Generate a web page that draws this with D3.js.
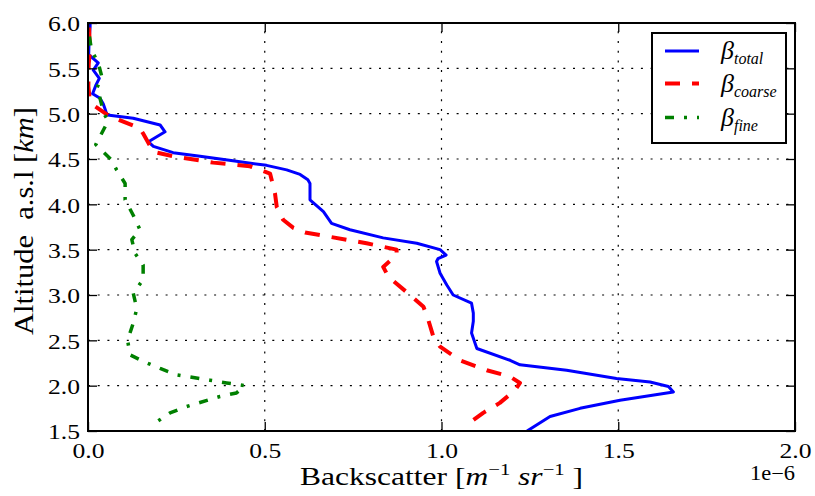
<!DOCTYPE html>
<html>
<head>
<meta charset="utf-8">
<script src="https://cdn.jsdelivr.net/npm/d3@7"></script>
<style>
    body { margin: 0; background: #fff; }
    svg { display: block; font-family: "Liberation Serif", "Times New Roman", serif; }
    svg text { font-family: "Liberation Serif", "Times New Roman", serif; }
</style>
</head>
<body>
<div id="chart"></div>
<script>
// Backscatter profiles, values in units of 1e-6 m^-1 sr^-1, altitude in km a.s.l
const totalAltitude = [5.99, 5.96, 5.80, 5.65, 5.56, 5.48, 5.39, 5.32, 5.22, 5.17, 5.11, 5.02, 4.985, 4.95, 4.875, 4.80, 4.69, 4.64, 4.57, 4.53, 4.48, 4.43, 4.38, 4.33, 4.27, 4.23, 4.05, 3.92, 3.79, 3.72, 3.63, 3.57, 3.50, 3.44, 3.40, 3.37, 3.24, 3.11, 3.00, 2.91, 2.80, 2.71, 2.58, 2.41, 2.28, 2.23, 2.17, 2.08, 2.04, 1.99, 1.93, 1.84, 1.75, 1.66, 1.50];
const totalBackscatter = [0.006, 0.006, 0.003, 0.002, 0.029, 0.015, 0.032, 0.023, 0.013, 0.034, 0.043, 0.051, 0.055, 0.128, 0.204, 0.218, 0.171, 0.185, 0.241, 0.317, 0.410, 0.505, 0.562, 0.600, 0.622, 0.628, 0.628, 0.666, 0.689, 0.741, 0.835, 0.930, 0.996, 1.013, 0.990, 0.986, 0.996, 1.015, 1.033, 1.085, 1.090, 1.090, 1.085, 1.100, 1.194, 1.222, 1.354, 1.495, 1.590, 1.642, 1.656, 1.505, 1.392, 1.307, 1.242];

const coarseAltitude = [5.95, 5.85, 5.70, 5.55, 5.30, 5.19, 5.08, 4.97, 4.84, 4.78, 4.58, 4.53, 4.46, 4.42, 4.34, 4.12, 3.97, 3.83, 3.74, 3.69, 3.57, 3.50, 3.44, 3.31, 3.20, 3.00, 2.87, 2.72, 2.54, 2.43, 2.28, 2.17, 2.10, 2.03, 1.95, 1.81, 1.70, 1.62, 1.50];
const coarseBackscatter = [0.003, 0.004, 0.006, 0.002, 0.001, 0.004, 0.020, 0.062, 0.147, 0.156, 0.185, 0.241, 0.354, 0.458, 0.515, 0.529, 0.534, 0.552, 0.581, 0.614, 0.788, 0.873, 0.873, 0.835, 0.850, 0.911, 0.949, 0.963, 0.977, 0.996, 1.052, 1.128, 1.194, 1.222, 1.208, 1.165, 1.118, 1.090, 1.080];

const fineAltitude = [5.85, 5.70, 5.56, 5.41, 5.28, 5.17, 5.00, 4.92, 4.66, 4.50, 4.38, 4.23, 4.05, 3.88, 3.72, 3.61, 3.46, 3.33, 3.17, 3.02, 2.85, 2.69, 2.50, 2.34, 2.26, 2.19, 2.12, 2.09, 2.06, 2.03, 2.00, 1.92, 1.88, 1.77, 1.70, 1.60];
const fineBackscatter = [0.004, 0.010, 0.029, 0.039, 0.025, 0.034, 0.045, 0.057, 0.022, 0.064, 0.081, 0.105, 0.105, 0.128, 0.147, 0.124, 0.133, 0.156, 0.156, 0.128, 0.138, 0.128, 0.112, 0.119, 0.161, 0.204, 0.251, 0.298, 0.345, 0.392, 0.444, 0.420, 0.373, 0.279, 0.232, 0.194];

const seriesLabels = ["total", "coarse", "fine"];
const xTicks = [0.0, 0.5, 1.0, 1.5, 2.0];
const yTicks = [1.5, 2.0, 2.5, 3.0, 3.5, 4.0, 4.5, 5.0, 5.5, 6.0];

// set the dimensions and margins of the graph
const margin = { top: 23, right: 20, bottom: 65, left: 88 },
    width = 815 - margin.left - margin.right,
    height = 496 - margin.top - margin.bottom;

const svg = d3.select("#chart").append("svg")
    .attr("width", width + margin.left + margin.right)
    .attr("height", height + margin.top + margin.bottom);

const g = svg.append("g")
    .attr("transform", `translate(${margin.left},${margin.top})`);

const xScale = d3.scaleLinear([0, 2], [0, width]);
const yScale = d3.scaleLinear([1.5, 6], [height, 0]);

// dotted grid
const grid = g.append("g").attr("class", "grid")
    .attr("stroke", "#000")
    .attr("stroke-width", 1.2)
    .attr("stroke-dasharray", "2,7.7");
grid.selectAll(".gx").data(xTicks).join("line")
    .attr("x1", d => xScale(d)).attr("x2", d => xScale(d))
    .attr("y1", height).attr("y2", 0);
grid.selectAll(".gy").data(yTicks).join("line")
    .attr("y1", d => yScale(d)).attr("y2", d => yScale(d))
    .attr("x1", 0).attr("x2", width);

// clip the profiles to the axes box
svg.append("defs").append("clipPath")
    .attr("id", "plot-clip")
    .append("rect")
    .attr("width", width)
    .attr("height", height);

const series = [
    { name: "total", alt: totalAltitude, values: totalBackscatter, color: "#0000ff", width: 3, dash: null },
    { name: "coarse", alt: coarseAltitude, values: coarseBackscatter, color: "#ff0000", width: 4, dash: "15,12" },
    { name: "fine", alt: fineAltitude, values: fineBackscatter, color: "#008000", width: 3.5, dash: "9,10,3,10" }
];

const plots = g.append("g").attr("clip-path", "url(#plot-clip)");
for (let i in series) {
    const s = series[i];
    plots.append("path")
        .datum(s.values)
        .attr("fill", "none")
        .attr("stroke", s.color)
        .attr("stroke-width", s.width)
        .attr("stroke-linejoin", "round")
        .attr("stroke-dasharray", s.dash)
        .attr("d", d3.line()
            .x(d => xScale(d))
            .y((_, j) => yScale(s.alt[j]))
        );
}

// axes: ticks point inward on all four sides
const tickLen = 9;
const fmt = d3.format(".1f");

const xAxis = g.append("g")
    .attr("transform", `translate(0,${height})`)
    .call(d3.axisBottom(xScale).tickValues(xTicks).tickSizeInner(-tickLen).tickSizeOuter(0).tickFormat(fmt));
xAxis.selectAll("text")
    .attr("y", 27)
    .attr("dy", null)
    .attr("textLength", 32)
    .attr("lengthAdjust", "spacingAndGlyphs");

const yAxis = g.append("g")
    .call(d3.axisLeft(yScale).tickValues(yTicks).tickSizeInner(-tickLen).tickSizeOuter(0).tickFormat(fmt));
yAxis.selectAll("text")
    .attr("x", -8)
    .attr("dy", "0.36em")
    .attr("textLength", 32)
    .attr("lengthAdjust", "spacingAndGlyphs");

g.append("g")
    .call(d3.axisTop(xScale).tickValues(xTicks).tickSizeInner(-tickLen).tickSizeOuter(0).tickFormat(""));
g.append("g")
    .attr("transform", `translate(${width},0)`)
    .call(d3.axisRight(yScale).tickValues(yTicks).tickSizeInner(-tickLen).tickSizeOuter(0).tickFormat(""));

g.selectAll(".domain").remove();
g.selectAll("g").attr("font-family", null).attr("font-size", null);
g.selectAll(".tick line").attr("stroke", "#000").attr("stroke-width", 1.3);
g.selectAll(".tick text")
    .attr("fill", "#000")
    .style("font-family", "'Liberation Serif', serif")
    .style("font-size", "22px");

// frame
g.append("rect")
    .attr("width", width)
    .attr("height", height)
    .attr("fill", "none")
    .attr("stroke", "#000")
    .attr("stroke-width", 2);

// axis labels
const xLabel = svg.append("text")
    .attr("x", margin.left + width / 2)
    .attr("y", 485)
    .attr("text-anchor", "middle")
    .attr("font-size", 26)
    .attr("textLength", 283)
    .attr("lengthAdjust", "spacingAndGlyphs");
xLabel.append("tspan").text("Backscatter [");
xLabel.append("tspan").attr("font-style", "italic").text("m");
xLabel.append("tspan").attr("font-size", 17).attr("dy", -10).text("\u22121");
xLabel.append("tspan").attr("font-style", "italic").attr("dy", 10).text(" sr");
xLabel.append("tspan").attr("font-size", 17).attr("dy", -10).text("\u22121");
xLabel.append("tspan").attr("dy", 10).text(" ]");

const yLabel = svg.append("text")
    .attr("transform", "translate(33,221) rotate(-90)")
    .attr("text-anchor", "middle")
    .attr("font-size", 27)
    .attr("textLength", 228)
    .attr("lengthAdjust", "spacingAndGlyphs")
    .style("white-space", "pre");
yLabel.append("tspan").text("Altitude  a.s.l [");
yLabel.append("tspan").attr("font-style", "italic").text("km");
yLabel.append("tspan").text("]");

// offset text for the x axis
svg.append("text")
    .attr("x", margin.left + width)
    .attr("y", 480)
    .attr("text-anchor", "end")
    .attr("font-size", 20)
    .attr("textLength", 45)
    .attr("lengthAdjust", "spacingAndGlyphs")
    .text("1e\u22126");

// legend
const legend = svg.append("g");
legend.append("rect")
    .attr("x", 652).attr("y", 33)
    .attr("width", 134).attr("height", 110)
    .attr("fill", "#fff")
    .attr("stroke", "#000")
    .attr("stroke-width", 2);

const legendY = [51, 83.5, 117.5];
for (let i in series) {
    const s = series[i];
    legend.append("line")
        .attr("x1", 665).attr("x2", 699)
        .attr("y1", legendY[i]).attr("y2", legendY[i])
        .attr("stroke", s.color)
        .attr("stroke-width", s.width)
        .attr("stroke-dasharray", s.dash);
    const t = legend.append("text")
        .attr("x", 721)
        .attr("y", legendY[i] + 8)
        .attr("font-style", "italic")
        .attr("font-size", 26);
    t.append("tspan").text("\u03b2");
    t.append("tspan").attr("font-size", 16).attr("dy", 5).text(seriesLabels[i]);
}
</script>
</body>
</html>
